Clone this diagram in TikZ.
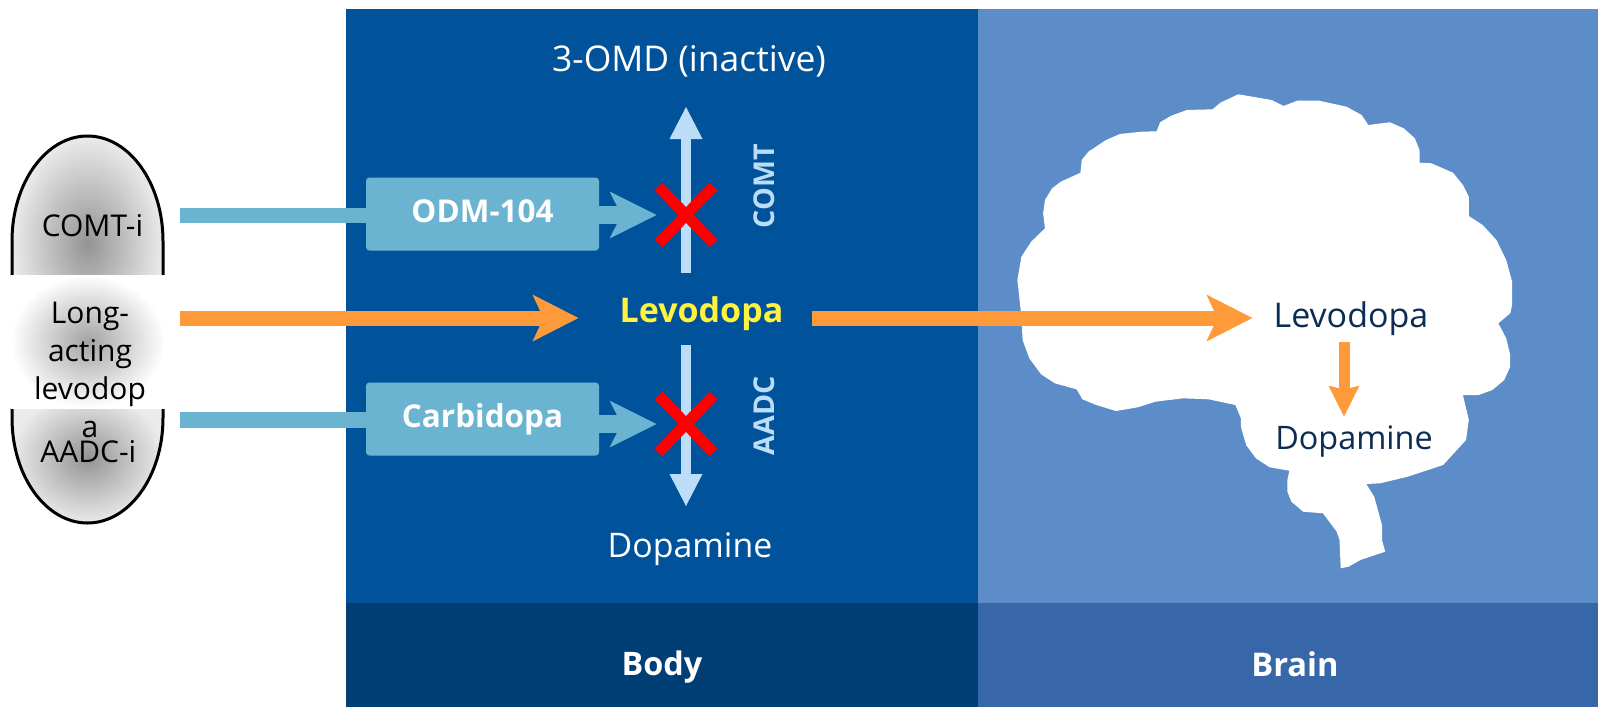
\documentclass[tikz,border=0pt]{standalone}
\usepackage{fontspec}
\setmainfont{Open Sans}
\usetikzlibrary{arrows.meta,shapes.misc}

\definecolor{bodyblue}{RGB}{0,83,155}
\definecolor{bodyfoot}{RGB}{0,62,116}
\definecolor{brainblue}{RGB}{92,141,201}
\definecolor{brainfoot}{RGB}{55,103,168}
\definecolor{drugblue}{RGB}{106,180,209}
\definecolor{paleblue}{RGB}{187,221,248}
\definecolor{ldorange}{RGB}{255,154,58}
\definecolor{ldyellow}{RGB}{255,242,64}
\definecolor{navy}{RGB}{12,45,83}

\begin{document}
\begin{tikzpicture}[x=0.75pt, y=-0.75pt,
  lbl/.style={inner sep=0pt, anchor=base},
  drugbox/.style={fill=drugblue, rounded corners=2.5pt, inner sep=0pt,
    minimum width=174.75pt, minimum height=54.75pt, text=white,
    font=\bfseries\fontsize{23.6pt}{28pt}\selectfont,
    text height=17.25pt, text depth=4.5pt},
  feed/.style={draw=drugblue, line width=11.6pt},
  block/.style={draw=drugblue, line width=13.5pt,
    -{Stealth[length=35.25pt, width=35.25pt, inset=9pt, line width=0pt]}},
  ldarrow/.style={draw=ldorange, line width=11.25pt,
    -{Stealth[length=34.5pt, width=35.25pt, inset=8.25pt, line width=0pt]}},
  enzyme/.style={draw=paleblue, line width=7.5pt,
    -{Triangle[length=24pt, width=24.75pt, line width=0pt]}},
  convert/.style={draw=ldorange, line width=8.25pt,
    -{Stealth[length=23.25pt, width=23.25pt, inset=3pt, line width=0pt]}},
  blocked/.style={cross out, draw=red, line width=8.25pt, inner sep=0pt,
    minimum width=33pt, minimum height=34.5pt},
  pilltext/.style={lbl, text=black, font=\fontsize{22.5pt}{28.5pt}\selectfont},
]
\useasboundingbox (0,0) rectangle (1598,707);
\fill[white] (0,0) rectangle (1598,707);

% compartments
\fill[bodyblue]  (346,9)   rectangle (978,603);
\fill[bodyfoot]  (346,603) rectangle (978,707);
\fill[brainblue] (978,9)   rectangle (1598,603);
\fill[brainfoot] (978,603) rectangle (1598,707);

% brain silhouette
\fill[white] (1238.2,94.3) -- (1271.7,100) -- (1283.5,106) -- (1297.3,100.7)
  -- (1319,100.7) -- (1346.6,106.7) -- (1361.6,115) -- (1368.3,125)
  -- (1389.9,122.3) -- (1403.7,128.3) -- (1414.8,138.3) -- (1419.5,150)
  -- (1419.5,162.7) -- (1431.3,163.3) -- (1453,172.7) -- (1462.9,185)
  -- (1468.8,196.7) -- (1468.8,216) -- (1482.6,225) -- (1496.4,240)
  -- (1506.2,260) -- (1512.1,281.7) -- (1512.1,305) -- (1510.2,313.3)
  -- (1498.3,323.3) -- (1506.2,338.3) -- (1510.2,355) -- (1510.2,366.7)
  -- (1504.2,380) -- (1492.4,390) -- (1478.6,395) -- (1462.9,395)
  -- (1468.8,420) -- (1466,440) -- (1443.1,465) -- (1407.7,476.7)
  -- (1380.1,483.3) -- (1366.3,484) -- (1374.2,496.7) -- (1382,525)
  -- (1382,540) -- (1385.2,551.7) -- (1360.4,560) -- (1348.5,566.7)
  -- (1340.7,568.3) -- (1339.5,540) -- (1336.7,531.7) -- (1322.9,513.3)
  -- (1303.2,511.7) -- (1291.4,501.7) -- (1287.4,491.7) -- (1287.4,480)
  -- (1289.4,470.7) -- (1269.7,467.3) -- (1255.9,458.3) -- (1246.1,445)
  -- (1240.9,426.7) -- (1240.9,418.3) -- (1235.4,405) -- (1208.6,399.3)
  -- (1183,398.3) -- (1155.4,401.7) -- (1137.7,407.3) -- (1116,411)
  -- (1096.3,405) -- (1082.5,399.3) -- (1076.6,389.3) -- (1054.9,383.3)
  -- (1041.1,374.3) -- (1029.3,358.3) -- (1022.6,340) -- (1021.4,316.7)
  -- (1017.4,280) -- (1021.4,256.7) -- (1031.2,241.7) -- (1045,228.3)
  -- (1043.1,213.3) -- (1045,200) -- (1052.1,188.3) -- (1060.8,181.7)
  -- (1080.5,172.7) -- (1081.7,160) -- (1088.4,151.7) -- (1106.1,140)
  -- (1119.9,134) -- (1141.6,131.7) -- (1156.6,131.3) -- (1160.1,122.3)
  -- (1171.2,115.7) -- (1186.9,110) -- (1212.6,109.3) -- (1220.4,102.7) -- cycle;

% capsule
\begin{scope}
  \clip (12,241) -- (12,418) arc[start angle=180, end angle=0, x radius=75.5, y radius=105]
    -- (163,241) arc[start angle=0, end angle=-180, x radius=75.5, y radius=105] -- cycle;
  \shade[inner color=black!42, outer color=black!8] (12,136) rectangle (163,350);
  \shade[inner color=black!42, outer color=black!8] (12,393) rectangle (163,523);
\end{scope}
\draw[black, line width=2.25pt] (12,241) -- (12,418)
  arc[start angle=180, end angle=0, x radius=75.5, y radius=105]
  -- (163,241) arc[start angle=0, end angle=-180, x radius=75.5, y radius=105] -- cycle;
\shade[inner color=black!36, outer color=white] (10.5,275) rectangle (165,408);

\node[pilltext] (comti) at (92.5,236) {COMT-i};
\node[pilltext, align=center, anchor=north] (ldpill) at (90,301.6) {Long-\\acting\\levodop\\a};
\node[pilltext] (aadci) at (88.3,462) {AADC-i};

% body compartment labels
\node[lbl, text=white, font=\fontsize{26.6pt}{32pt}\selectfont] (omd) at (689,71) {3-OMD (inactive)};
\node[lbl, text=ldyellow, font=\bfseries\fontsize{25.5pt}{30pt}\selectfont] (ldbody) at (701.5,322.7) {Levodopa};
\node[lbl, text=white, font=\fontsize{25.4pt}{30pt}\selectfont] (dabody) at (690,557.7) {Dopamine};
\node[inner sep=0pt, rotate=90, text=paleblue, font=\bfseries\fontsize{21.5pt}{26pt}\selectfont] (comtlbl) at (764.7,186) {COMT};
\node[inner sep=0pt, rotate=90, text=paleblue, font=\bfseries\fontsize{21.5pt}{26pt}\selectfont] (aadclbl) at (764.7,416) {AADC};

% brain labels
\node[lbl, text=navy, font=\fontsize{25.5pt}{30pt}\selectfont] (ldbrain) at (1351,327.3) {Levodopa};
\node[lbl, text=navy, font=\fontsize{24.3pt}{29pt}\selectfont] (dabrain) at (1354,449.3) {Dopamine};

% footer labels
\node[lbl, text=white, font=\bfseries\fontsize{24.3pt}{29pt}\selectfont] (bodylbl) at (662,675) {Body};
\node[lbl, text=white, font=\bfseries\fontsize{24.5pt}{29pt}\selectfont] (brainlbl) at (1295,676) {Brain};

% inhibitors
\node[drugbox] (odm) at (482.5,214) {ODM-104};
\node[drugbox] (carbi) at (482.5,419) {Carbidopa};

% enzyme pathways
\coordinate (comtbase) at (686,273);
\coordinate (comttip)  at (686,107);
\coordinate (aadcbase) at (686,345);
\coordinate (aadctip)  at (686,506);
\draw[enzyme] (comtbase) -- (comttip);
\draw[enzyme] (aadcbase) -- (aadctip);

\node[blocked] (xcomt) at (686,215) {};
\node[blocked] (xaadc) at (686,424) {};

% capsule outputs
\coordinate (comtin) at (180,215.5);
\coordinate (ldin)   at (180,318);
\coordinate (aadcin) at (180,420);
\draw[feed] (comtin) -- (comtin -| odm.west);
\draw[feed] (aadcin) -- (aadcin -| carbi.west);
\draw[block] (odm.east |- xcomt) -- ([xshift=-1.5pt]xcomt.west);
\draw[block] (carbi.east |- xaadc) -- ([xshift=-1.5pt]xaadc.west);

% levodopa route
\draw[ldarrow, shorten >=30.75pt] (ldin) -- (ldin -| ldbody.west);
\draw[ldarrow, shorten <=21pt, shorten >=15.75pt] (ldin -| ldbody.east) -- (ldin -| ldbrain.west);
\coordinate (bx) at (1344,0);
\draw[convert, shorten <=4.5pt, shorten >=6.5pt] (ldbrain.south -| bx) -- (dabrain.north -| bx);
\end{tikzpicture}
\end{document}
